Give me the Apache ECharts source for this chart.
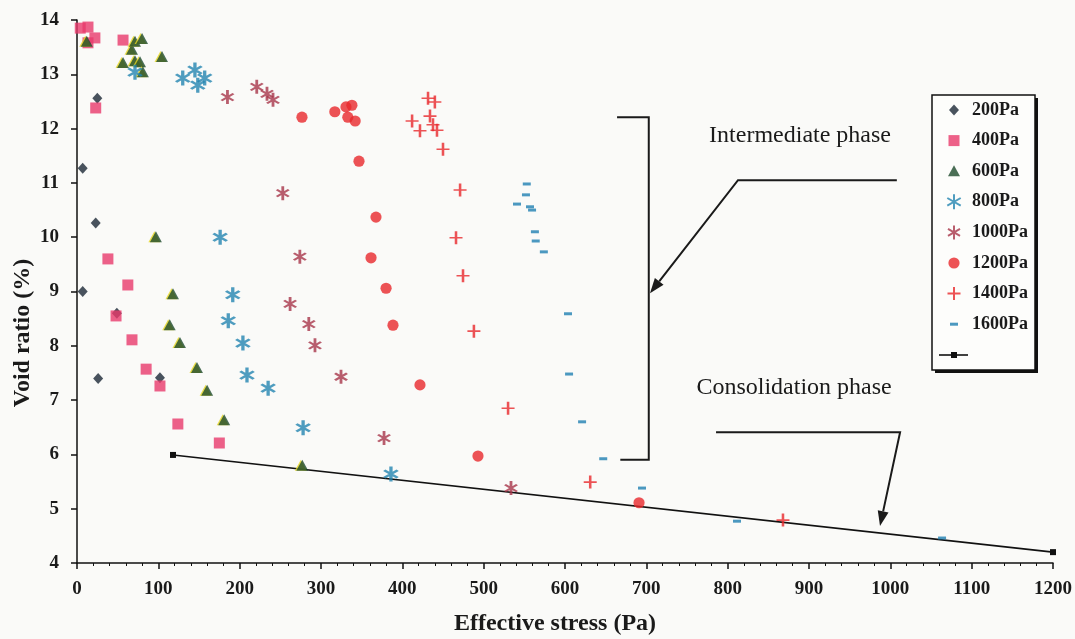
<!DOCTYPE html>
<html>
<head>
<meta charset="utf-8">
<script src="https://cdn.jsdelivr.net/npm/echarts@6/dist/echarts.min.js"></script>
<style>
  html, body { margin: 0; padding: 0; background: #fafaf8; }
  #chart { width: 1075px; height: 639px; }
</style>
</head>
<body>
<div id="chart"></div>
<script>
// Effective stress (Pa) vs void ratio (%) for each applied load
const xTicks = [0, 1200, 100];
const yTicks = [4, 14, 1];

const pa200 = [[25, 12.56], [7, 11.27], [23, 10.26], [7, 9.0], [49, 8.6], [26, 7.4], [102, 7.41]];
const pa400 = [[4, 13.85], [13.5, 13.87], [22, 13.67], [13.5, 13.58], [56.6, 13.63], [23, 12.38],
  [38, 9.6], [62.5, 9.12], [48, 8.55], [67.6, 8.11], [85, 7.57], [102, 7.26], [124, 6.56], [175, 6.21]];
const pa600 = [[12, 13.6], [56.6, 13.21], [67.6, 13.45], [71.3, 13.6], [80, 13.65], [71.3, 13.24],
  [77.5, 13.22], [81, 13.04], [104.5, 13.32], [97, 10.0], [118, 8.95], [114, 8.38], [126.6, 8.05],
  [147.5, 7.59], [160, 7.17], [181, 6.63], [277, 5.79]];
const pa800 = [[71.3, 13.04], [130, 12.93], [145, 13.08], [157, 12.93], [148.5, 12.8], [176, 10.0],
  [191.5, 8.94], [186, 8.46], [204, 8.05], [209, 7.46], [235, 7.22], [278, 6.49], [386, 5.64]];
const pa1000 = [[185, 12.58], [221, 12.77], [233.6, 12.64], [241, 12.53], [253, 10.81], [274, 9.64],
  [262, 8.77], [285, 8.40], [292.6, 8.01], [324.6, 7.43], [377.5, 6.30], [533.6, 5.38]];
const pa1200 = [[276.6, 12.21], [317, 12.31], [330.7, 12.40], [338, 12.43], [333, 12.21], [342, 12.14],
  [346.7, 11.40], [367.6, 10.37], [361.5, 9.62], [380, 9.06], [388.5, 8.38], [421.7, 7.28], [493, 5.97], [691, 5.11]];
const pa1400 = [[431.6, 12.56], [440, 12.49], [412, 12.14], [434, 12.23], [437.7, 12.07], [442.6, 11.97],
  [421.7, 11.96], [450, 11.62], [471, 10.87], [466, 9.99], [474.6, 9.29], [488, 8.27], [530, 6.85], [631, 5.49], [868, 4.79]];
const pa1600 = [[553, 10.98], [552, 10.78], [541, 10.61], [557, 10.56], [559.5, 10.50], [563, 10.10],
  [564, 9.93], [574, 9.73], [603.7, 8.59], [605, 7.48], [621, 6.60], [647, 5.92], [694.7, 5.38], [811.5, 4.77], [1063.6, 4.46]];
const trend = [[118, 5.99], [1200, 4.2]];

const seriesNames = ['200Pa', '400Pa', '600Pa', '800Pa', '1000Pa', '1200Pa', '1400Pa', '1600Pa'];

// Annotation anchors in data units
const intermediate = { label: [889, 11.86], hStart: [1008, 11.05], hEnd: [812.7, 11.05], tip: [704.5, 8.97],
  bracketTop: [[664, 12.21], [703, 12.21]], bracketBottom: [[668, 5.90], [703, 5.90]] };
const consolidation = { label: [881.6, 7.22], hStart: [785.7, 6.41], hEnd: [1012, 6.41], tip: [987.3, 4.68] };

const SERIF = '"Liberation Serif", "DejaVu Serif", serif';

// Every marker is drawn inside the same 26x16 frame so chart and legend share one size
const FRAME = 'M0,0L0,0M26,16L26,16';
const SYM = {
  diamond: 'path://' + FRAME + 'M13,2.5L18,8L13,13.5L8,8Z',
  square: 'path://' + FRAME + 'M7.5,2.5H18.5V13.5H7.5Z',
  triangle: 'path://' + FRAME + 'M13,2L19,13L7,13Z',
  starBig: 'path://' + FRAME + 'M13,0.5L13,15.5M6.3,4.2L19.7,11.8M6.3,11.8L19.7,4.2',
  star: 'path://' + FRAME + 'M13,1L13,15M7,4.5L19,11.5M7,11.5L19,4.5',
  circle: 'path://' + FRAME + 'M18.6,8A5.6,5.6,0,1,1,7.4,8A5.6,5.6,0,1,1,18.6,8Z',
  plus: 'path://' + FRAME + 'M13,1.5L13,14.5M6.5,8L19.5,8',
  dash: 'path://' + FRAME + 'M9,6.5H17V9.5H9Z'
};
const FRAME_SIZE = [26, 16];

function stroked(color, w) {
  return { color: color, borderColor: color, borderWidth: w };
}

const chart = echarts.init(document.getElementById('chart'), null, { renderer: 'canvas' });

const axisText = { fontFamily: SERIF, fontWeight: 'bold', fontSize: 19, color: '#1a1a1a' };

function scatter(name, data, symbol, itemStyle) {
  return { name: name, type: 'scatter', data: data, symbol: symbol, symbolSize: FRAME_SIZE,
    symbolKeepAspect: false, itemStyle: itemStyle, z: 3 };
}

const option = {
  backgroundColor: '#fafaf8',
  animation: false,
  grid: { left: 77, right: 22, top: 20, bottom: 76, outerBoundsMode: 'none', containLabel: false },
  legend: {
    orient: 'vertical',
    left: 932,
    top: 95,
    z: 20,
    padding: [6, 8, 8, 8],
    itemWidth: 26,
    itemHeight: 16,
    itemGap: 12.6,
    symbolKeepAspect: true,
    textStyle: { fontFamily: SERIF, fontWeight: 'bold', fontSize: 18, lineHeight: 18, color: '#1a1a1a' },
    data: seriesNames
  },
  xAxis: {
    type: 'value', min: xTicks[0], max: xTicks[1], interval: xTicks[2],
    axisLine: { show: true, lineStyle: { color: '#111', width: 1.5 } },
    axisTick: { show: true, length: 6, lineStyle: { color: '#111', width: 1.5 } },
    minorTick: { show: true, splitNumber: 5, length: 3, lineStyle: { color: '#111', width: 1 } },
    splitLine: { show: false },
    axisLabel: Object.assign({ margin: 17, formatter: v => String(v) }, axisText),
    name: 'Effective stress (Pa)', nameLocation: 'middle', nameGap: 49,
    nameTextStyle: { fontFamily: SERIF, fontWeight: 'bold', fontSize: 24, color: '#1a1a1a', padding: [0, 20, 0, 0] }
  },
  yAxis: {
    type: 'value', min: yTicks[0], max: yTicks[1], interval: yTicks[2],
    axisLine: { show: true, lineStyle: { color: '#111', width: 1.5 } },
    axisTick: { show: true, length: 6, lineStyle: { color: '#111', width: 1.5 } },
    splitLine: { show: false },
    axisLabel: Object.assign({ margin: 18, formatter: v => String(v) }, axisText)
  },
  series: [
    scatter('200Pa', pa200, SYM.diamond, { color: '#1b2836' }),
    scatter('400Pa', pa400, SYM.square, { color: '#e83a6c' }),
    scatter('600Pa', pa600, SYM.triangle,
      { color: '#1d4a2c', shadowColor: '#e6d61e', shadowBlur: 0, shadowOffsetX: -1.5, shadowOffsetY: 0 }),
    scatter('800Pa', pa800, SYM.starBig, stroked('#2384b0', 2.6)),
    scatter('1000Pa', pa1000, SYM.star, stroked('#a8364a', 2.2)),
    scatter('1200Pa', pa1200, SYM.circle, { color: '#e8282c' }),
    scatter('1400Pa', pa1400, SYM.plus, stroked('#e8282c', 2)),
    scatter('1600Pa', pa1600, SYM.dash, { color: '#1f7fb2' }),
    { name: 'trend', type: 'line', data: trend, symbol: 'rect', symbolSize: 6, showSymbol: true,
      itemStyle: { color: '#111' }, lineStyle: { color: '#111', width: 1.6 }, z: 1 }
  ]
};

chart.setOption(option);

function px(p) { return chart.convertToPixel({ gridIndex: 0 }, p); }

function arrowHead(from, to, len, half) {
  const dx = to[0] - from[0], dy = to[1] - from[1];
  const d = Math.sqrt(dx * dx + dy * dy);
  const ux = dx / d, uy = dy / d;
  const bx = to[0] - ux * len, by = to[1] - uy * len;
  return [to, [bx - uy * half, by + ux * half], [bx + uy * half, by - ux * half]];
}

const ink = { stroke: '#1a1a1a', lineWidth: 2, fill: null };
const labelFont = '24px ' + SERIF;
const graphics = [];

// Legend frame with a solid drop edge on the right and bottom, plus the line key in its last row
graphics.push({ type: 'rect', z: 0, shape: { x: 935, y: 98, width: 103, height: 275 }, style: { fill: '#111' } });
graphics.push({ type: 'rect', z: 1, shape: { x: 932, y: 95, width: 103, height: 275 },
  style: { fill: '#fdfdfb', stroke: '#111', lineWidth: 1.5 } });
graphics.push({ type: 'line', z: 2, shape: { x1: 939, y1: 355, x2: 968, y2: 355 }, style: { stroke: '#111', lineWidth: 1.6 } });
graphics.push({ type: 'rect', z: 2, shape: { x: 951, y: 352, width: 6, height: 6 }, style: { fill: '#111' } });

// Intermediate phase bracket and arrow
{
  const a = intermediate;
  const t0 = px(a.bracketTop[0]), t1 = px(a.bracketTop[1]);
  const b0 = px(a.bracketBottom[0]), b1 = px(a.bracketBottom[1]);
  graphics.push({ type: 'polyline', shape: { points: [t0, t1, b1, b0] }, style: ink });
  const h0 = px(a.hStart), h1 = px(a.hEnd), tip = px(a.tip);
  const head = arrowHead(h1, tip, 15, 5.5);
  const shaftEnd = [(head[1][0] + head[2][0]) / 2, (head[1][1] + head[2][1]) / 2];
  graphics.push({ type: 'polyline', shape: { points: [h0, h1, shaftEnd] }, style: ink });
  graphics.push({ type: 'polygon', shape: { points: head }, style: { fill: '#1a1a1a' } });
  const lp = px(a.label);
  graphics.push({ type: 'text', x: lp[0], y: lp[1],
    style: { text: 'Intermediate phase', font: labelFont, fill: '#1a1a1a', align: 'center', verticalAlign: 'middle' } });
}

// Consolidation phase arrow
{
  const c = consolidation;
  const h0 = px(c.hStart), h1 = px(c.hEnd), tip = px(c.tip);
  const head = arrowHead(h1, tip, 15, 5.5);
  const shaftEnd = [(head[1][0] + head[2][0]) / 2, (head[1][1] + head[2][1]) / 2];
  graphics.push({ type: 'polyline', shape: { points: [h0, h1, shaftEnd] }, style: ink });
  graphics.push({ type: 'polygon', shape: { points: head }, style: { fill: '#1a1a1a' } });
  const lp = px(c.label);
  graphics.push({ type: 'text', x: lp[0], y: lp[1],
    style: { text: 'Consolidation phase', font: labelFont, fill: '#1a1a1a', align: 'center', verticalAlign: 'middle' } });
}

// Vertical axis title
graphics.push({ type: 'text', x: 23, y: 333, rotation: Math.PI / 2,
  style: { text: 'Void ratio (%)', font: 'bold 24px ' + SERIF, fill: '#1a1a1a', align: 'center', verticalAlign: 'middle' } });

chart.setOption({ graphic: graphics });
</script>
</body>
</html>
